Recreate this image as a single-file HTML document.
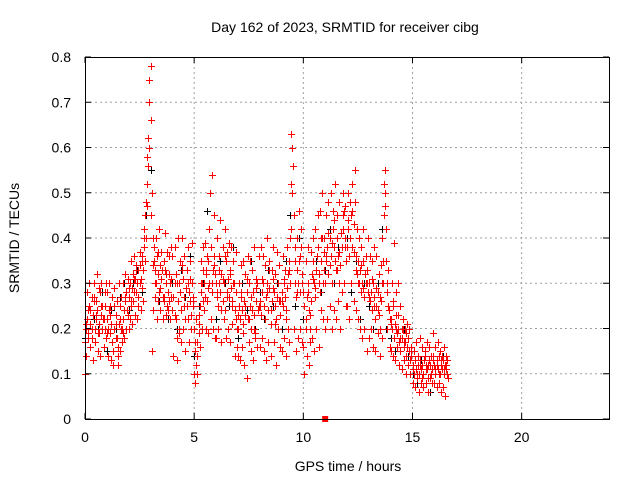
<!DOCTYPE html>
<html><head><meta charset="utf-8"><style>
html,body{margin:0;padding:0;background:#fff;}
svg{display:block;font-family:"Liberation Sans",sans-serif;}
</style></head><body>
<svg id="chart" width="640" height="480">
<g id="grid"></g>
<g id="blackPts"></g>
<g id="redPts"></g>
<g id="axes"></g>
<text x="345" y="32" text-anchor="middle" font-size="14">Day 162 of 2023, SRMTID for receiver cibg</text>
<text x="348" y="471" text-anchor="middle" font-size="14">GPS time / hours</text>
<text transform="translate(19,238) rotate(-90)" text-anchor="middle" font-size="14">SRMTID / TECUs</text>
</svg>
<script>
const xTicks=[0,5,10,15,20];
const yTicks=[0,0.1,0.2,0.3,0.4,0.5,0.6,0.7,0.8];
const yTickLabels=["0","0.1","0.2","0.3","0.4","0.5","0.6","0.7","0.8"];
const redStep=0.05;
const redMain=[.17,.2,.22,.19,.25,.21,.18,.23,.26,.2,.22,.24,.19,.21,.28,.23,.2,.22,.25,.18,
.22,.2,.24,.19,.21,.17,.15,.2,.23,.18,.16,.21,.25,.2,.17,.22,.24,.26,.28,.23,
.27,.3,.25,.29,.32,.28,.31,.33,.3,.27,.34,.31,.29,.33,.38,.45,.48,.52,.62,.7,
.78,.5,.4,.35,.33,.3,.36,.32,.28,.34,.31,.27,.35,.33,.3,.25,.28,.32,.3,.27,
.24,.27,.3,.22,.18,.26,.3,.28,.24,.34,.31,.27,.22,.25,.3,.28,.26,.23,.3,.27,
.2,.15,.12,.17,.19,.25,.28,.3,.33,.3,.27,.32,.26,.35,.3,.38,.28,.33,.45,.32,
.3,.27,.25,.3,.28,.32,.26,.3,.24,.35,.28,.31,.27,.33,.29,.26,.3,.24,.28,.2,
.2,.25,.22,.27,.24,.21,.26,.23,.28,.22,.3,.25,.2,.24,.28,.23,.19,.26,.3,.25,
.26,.23,.28,.3,.25,.22,.27,.3,.24,.29,.21,.26,.31,.28,.25,.22,.27,.3,.26,.23,
.28,.25,.3,.27,.24,.29,.32,.35,.4,.52,.6,.45,.3,.27,.33,.3,.35,.28,.38,.3,
.28,.25,.22,.27,.3,.24,.2,.26,.32,.35,.3,.27,.33,.38,.3,.28,.35,.4,.3,.33,
.3,.35,.38,.32,.4,.36,.3,.42,.38,.35,.33,.4,.36,.3,.34,.38,.42,.46,.4,.35,
.38,.42,.36,.4,.45,.38,.43,.48,.36,.32,.35,.3,.33,.28,.3,.35,.27,.3,.33,.28,
.3,.26,.28,.24,.3,.27,.22,.25,.28,.23,.2,.26,.3,.35,.45,.55,.35,.28,.25,.22,
.22,.2,.25,.18,.21,.23,.19,.2,.17,.15,.18,.2,.16,.17,.14,.16,.18,.15,.13,.16,
.12,.1,.13,.11,.09,.12,.1,.13,.11,.12,.1,.14,.12,.11,.09,.13,.12,.1,.11,.14,
.12,.1,.13,.11,.14,.1,.12,.11,.13,.1,.12,.11,.13];
const redAlt=[.1,.14,.28,.24,.3,.16,.27,.13,.3,.17,.26,.32,.15,.29,.14,.3,.25,.16,.28,.3,
.28,.14,.3,.25,.13,.27,.12,.29,.18,.26,.12,.3,.15,.27,.2,.3,.18,.32,.2,.31,
.2,.22,.35,.21,.26,.36,.23,.34,.22,.25,.37,.24,.36,.26,.42,.35,.4,.58,.56,.75,
.66,.15,.24,.38,.27,.4,.22,.26,.42,.24,.37,.22,.26,.41,.23,.37,.24,.36,.22,.38,
.36,.14,.38,.32,.13,.4,.2,.35,.17,.4,.2,.36,.15,.33,.38,.17,.35,.2,.39,.25,
.1,.08,.22,.14,.23,.16,.35,.2,.38,.24,.39,.2,.36,.19,.42,.22,.54,.2,.36,.18,
.18,.4,.2,.36,.44,.17,.38,.22,.42,.18,.37,.2,.39,.17,.38,.21,.35,.14,.37,.16,
.14,.3,.13,.34,.16,.35,.12,.32,.09,.36,.17,.35,.15,.33,.13,.38,.18,.31,.16,.36,
.16,.38,.18,.36,.15,.34,.13,.4,.17,.35,.14,.33,.38,.17,.32,.12,.37,.2,.34,.16,
.15,.36,.18,.33,.14,.38,.2,.17,.3,.63,.5,.2,.38,.15,.4,.18,.46,.2,.42,.17,
.16,.1,.35,.14,.38,.12,.17,.37,.18,.4,.15,.42,.2,.45,.16,.46,.24,.5,.22,.4,
.2,.45,.22,.48,.25,.5,.2,.46,.24,.52,.22,.45,.26,.48,.2,.28,.5,.3,.47,.25,
.25,.5,.22,.48,.3,.52,.26,.55,.24,.42,.22,.4,.2,.38,.18,.42,.2,.36,.15,.4,
.18,.36,.2,.35,.16,.38,.15,.36,.19,.32,.14,.34,.18,.3,.52,.5,.42,.2,.33,.16,
.15,.3,.14,.39,.13,.28,.16,.3,.12,.25,.11,.22,.13,.2,.1,.21,.12,.2,.1,.15,
.08,.15,.07,.17,.09,.14,.06,.18,.08,.16,.07,.15,.08,.17,.06,.16,.09,.14,.08,.19,
.08,.16,.07,.17,.08,.15,.06,.14,.07,.16,.05,.14,.1];
const redStep3=0.1;
const redOffset3=0.025;
const redThird=[.21,.18,.24,.2,.27,.23,.19,.25,.22,.2,
.19,.23,.17,.25,.21,.14,.22,.19,.27,.24,
.29,.26,.31,.28,.33,.3,.35,.4,.47,.6,
.45,.34,.3,.37,.29,.33,.27,.32,.26,.31,
.27,.23,.3,.19,.33,.25,.29,.22,.31,.26,
.17,.1,.21,.3,.26,.33,.29,.5,.3,.34,
.28,.33,.24,.31,.36,.27,.32,.25,.3,.22,
.23,.28,.19,.25,.31,.22,.27,.2,.29,.24,
.25,.31,.22,.28,.33,.24,.29,.21,.3,.26,
.26,.31,.22,.33,.42,.56,.35,.28,.36,.32,
.25,.2,.28,.23,.31,.29,.36,.32,.4,.37,
.36,.41,.34,.39,.44,.33,.37,.41,.45,.38,
.44,.4,.46,.37,.33,.3,.34,.29,.32,.3,
.27,.31,.25,.29,.24,.27,.4,.47,.3,.24,
.21,.26,.2,.23,.18,.2,.17,.19,.15,.14,
.11,.13,.1,.12,.09,.13,.11,.12,.1,.13,
.11,.12,.1,.13,.11,.12,.09];
const blackStep=0.2;
const blackVals=[.18,.25,.22,.2,.28,.15,.24,.2,.27,.3,.24,.3,.33,.28,.45,.55,.3,.26,.35,.22,
.3,.2,.33,.27,.36,.14,.25,.3,.46,.28,.22,.35,.3,.25,.38,.18,.3,.24,.35,.2,
.28,.22,.33,.25,.3,.2,.35,.45,.25,.4,.22,.3,.18,.35,.28,.33,.42,.3,.38,.45,
.4,.28,.35,.22,.3,.25,.2,.3,.42,.2,.18,.15,.12,.2,.14,.1,.08,.13,.11,.06,.12,.1,.14];
const squareT=[11];
const squareV=[0];

const X0=85,X1=609,Y0=419,Y1=57;
const xs=t=>X0+(t/24)*(X1-X0);
const ys=v=>Y0-(v/0.8)*(Y0-Y1);
const NS="http://www.w3.org/2000/svg";
function mk(tag,attrs,parent){const e=document.createElementNS(NS,tag);for(const k in attrs)e.setAttribute(k,attrs[k]);parent.appendChild(e);return e;}
const grid=document.getElementById('grid'),axes=document.getElementById('axes');
xTicks.forEach((t,i)=>{
  if(t>0){const l=mk('line',{x1:xs(t),x2:xs(t),y1:Y0,y2:Y1,stroke:'#a0a0a0','stroke-dasharray':'2,3'},grid);
  
  }
  const tk=mk('path',{d:`M${xs(t)},${Y0}v-6M${xs(t)},${Y1}v6`,stroke:'#000'},axes);
  
  
  const tx=mk('text',{x:xs(t),y:Y0+23,'text-anchor':'middle','font-size':14,fill:'#000'},axes);
  tx.textContent=t;
  
  
});
yTicks.forEach((v,i)=>{
  if(v>0&&v<0.8){const l=mk('line',{x1:X0,x2:X1,y1:ys(v),y2:ys(v),stroke:'#a0a0a0','stroke-dasharray':'2,3'},grid);
  
  }
  const tk=mk('path',{d:`M${X0},${ys(v)}h6M${X1},${ys(v)}h-6`,stroke:'#000'},axes);
  
  
  const tx=mk('text',{x:X0-14,y:ys(v)+5,'text-anchor':'end','font-size':14,fill:'#000'},axes);
  tx.textContent=yTickLabels[i];
  
  
});
const frame=mk('rect',{x:X0+0.5,y:Y1+0.5,width:X1-X0,height:Y0-Y1,fill:'none',stroke:'#000'},axes);


function plus(vals,step,offset,color,g,name){
  let d='';
  vals.forEach((v,i)=>{const x=Math.round(xs(offset+i*step))+0.5,y=Math.round(ys(v))+0.5;d+=`M${x-3.5},${y}h7M${x},${y-3.5}v7`;});
  const p=mk('path',{d:d,stroke:color,fill:'none','stroke-width':1},g);
  
  
}
const bg=document.getElementById('blackPts'),rg=document.getElementById('redPts');
plus(blackVals,blackStep,0,'#000',bg,'black-points');
plus(redAlt,redStep,0,'#f00',rg,'red-points-spread');
plus(redThird,redStep3,redOffset3,'#f00',rg,'red-points-extra');
plus(redMain,redStep,0,'#f00',rg,'red-points-main');
squareT.forEach((t,i)=>{
  const s=mk('rect',{x:xs(t)-3,y:ys(squareV[i])-3,width:6,height:6,fill:'#f00'},rg);
  
  
});
</script>
</body></html>
